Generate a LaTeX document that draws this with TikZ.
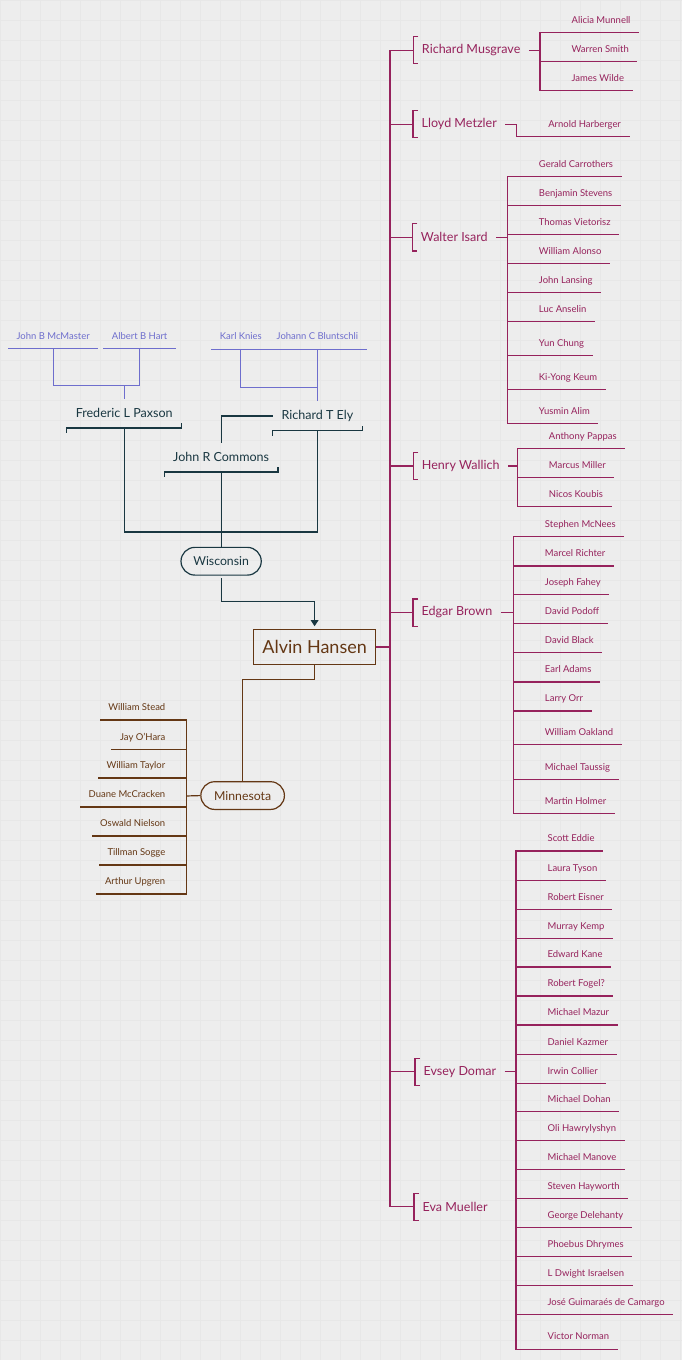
\documentclass[tikz,border=0pt]{standalone}
\usepackage{fontspec}
\setmainfont{Lato}
\usetikzlibrary{arrows.meta}
\definecolor{plum}{RGB}{150,34,92}
\definecolor{bark}{RGB}{100,55,20}
\definecolor{slate}{RGB}{25,55,65}
\definecolor{lilac}{RGB}{110,110,205}
\definecolor{paper}{RGB}{237,237,237}
\definecolor{gridgray}{RGB}{231,231,231}
\begin{document}
\begin{tikzpicture}[x=0.75pt,y=0.75pt,yscale=-1,xscale=1,line width=0.9pt,
  small/.style={font=\fontsize{7.1}{8.5}\selectfont},
  kid/.style={small,inner xsep=6pt,inner ysep=6.4pt,text depth=0pt},
  prof/.style={font=\fontsize{9.4}{11}\selectfont,text=plum,anchor=west,inner xsep=6pt,inner ysep=0pt,minimum height=19.5pt},
  elder/.style={font=\fontsize{9.4}{11}\selectfont,text=slate,inner xsep=6.3pt,inner ysep=0pt,minimum height=21pt},
  school/.style={draw,rounded corners=10.4pt,minimum height=20.8pt,inner sep=0pt,font=\fontsize{9.2}{11}\selectfont}]
%uncomment if require: \path (0,1360); %set diagram left start at 0, and has height of 1360
\fill[paper] (0,0) rectangle (682,1360);
\draw[gridgray,line width=0.3pt,step=15pt] (0,0) grid (682,1360);
\useasboundingbox (0,0) rectangle (682,1360);

% Alvin Hansen
\node[draw=bark,text=bark,line width=0.8pt,minimum width=91.2pt,minimum height=26.8pt,inner sep=0pt,font=\fontsize{13.5}{16}\selectfont] (alvin) at (314.5,647) {Alvin Hansen};

%%%%%%%% Wisconsin side
% Text Node
\node[kid,text=lilac,anchor=south] (mcmaster) at (53,348.5) {John B McMaster};
\node[kid,text=lilac,anchor=south] (hart) at (139.5,348.5) {Albert B Hart};
\node[kid,text=lilac,anchor=south] (knies) at (240.7,349) {Karl Knies};
\node[kid,text=lilac,anchor=south] (bluntschli) at (317.3,349) {Johann C Bluntschli};
\draw[lilac] (mcmaster.south west) -- (mcmaster.south east);
\draw[lilac] (hart.south west) -- (hart.south east);
\draw[lilac] (knies.south west) -- (knies.south east);
\draw[lilac] (bluntschli.south west) -- (bluntschli.south east);
% Text Node
\node[elder] (paxson) at (124,413.3) {Frederic L Paxson};
\node[elder] (ely) at (317.3,416) {Richard T Ely};
\node[elder] (commons) at (221,457.3) {John R Commons};
\draw[slate] ([yshift=3.75pt]paxson.south west) |- (paxson.south east) -- ++(0,-5);
\draw[slate] ([yshift=3.75pt]ely.south west) |- (ely.south east) -- ++(0,-5);
\draw[slate] ([yshift=3.75pt]commons.south west) |- (commons.south east) -- ++(0,-5);
%Straight Lines
\coordinate (paxjoin) at (124,385.7);
\coordinate (elyjoin) at (317.3,387.7);
\draw[lilac] (mcmaster.south) |- (paxjoin);
\draw[lilac] (hart.south) |- (paxjoin) -- (paxson.north);
\draw[lilac] (knies.south) |- (elyjoin);
\draw[lilac] (bluntschli.south) -- (ely.north);
\draw[slate] (ely.west) -| (commons.north);

\node[school,draw=slate,text=slate,minimum width=60.2pt] (wisconsin) at (221,561.2) {Wisconsin};
\coordinate (wjoin) at (221,532);
\draw[slate] (paxson.south) |- (wjoin);
\draw[slate] (ely.south) |- (wjoin);
\draw[slate] (commons.south) -- (wisconsin.north);
\coordinate (wbend) at (221,601.7);
\draw[slate,-{Triangle[width=5.8pt,length=4.6pt]},shorten <=2pt,shorten >=1.8pt] (wisconsin.south) -- (wbend) -| (alvin.north);

%%%%%%%% Minnesota side
\node[school,draw=bark,text=bark,minimum width=62.7pt] (minnesota) at (242.5,795.6) {Minnesota};
\coordinate (abend) at (314.5,679.3);
\draw[bark] (alvin.south) -- (abend) -| (minnesota.north);
\coordinate (minstem) at (186.7,796);
\draw[bark] (minnesota.west) -- (minstem);
% Text Node
\node[kid,text=bark,anchor=south east] (min1) at (173.7,720) {William Stead};
\node[kid,text=bark,anchor=south east] (min2) at (173.7,749.3) {Jay O’Hara};
\node[kid,text=bark,anchor=south east] (min3) at (173.7,778) {William Taylor};
\node[kid,text=bark,anchor=south east] (min4) at (173.7,807) {Duane McCracken};
\node[kid,text=bark,anchor=south east] (min5) at (173.7,836) {Oswald Nielson};
\node[kid,text=bark,anchor=south east] (min6) at (173.7,865) {Tillman Sogge};
\node[kid,text=bark,anchor=south east] (min7) at (173.7,894) {Arthur Upgren};
\draw[bark] (minstem) |- (min1.south west);
\draw[bark] (minstem) |- (min2.south west);
\draw[bark] (minstem) |- (min3.south west);
\draw[bark] (minstem) |- (min4.south west);
\draw[bark] (minstem) |- (min5.south west);
\draw[bark] (minstem) |- (min6.south west);
\draw[bark] (minstem) |- (min7.south west);

%%%%%%%% students
\coordinate (trunk) at (390,647);
\draw[plum] (alvin.east) -- (trunk);
\node[prof] (musgrave) at (413.3,50) {Richard Musgrave};
\node[prof] (metzler) at (413,124) {Lloyd Metzler};
\node[prof] (isard) at (412.3,237.3) {Walter Isard};
\node[prof] (wallich) at (413.3,466) {Henry Wallich};
\node[prof] (ebrown) at (413,612.5) {Edgar Brown};
\node[prof] (domar) at (415,1072) {Evsey Domar};
\node[prof] (mueller) at (414,1207) {Eva Mueller};
\draw[plum] (trunk) |- (musgrave.west);
\draw[plum] (trunk) |- (metzler.west);
\draw[plum] (trunk) |- (isard.west);
\draw[plum] (trunk) |- (wallich.west);
\draw[plum] (trunk) |- (ebrown.west);
\draw[plum] (trunk) |- (domar.west);
\draw[plum] (trunk) |- (mueller.west);
\draw[plum] ([xshift=3.75pt]musgrave.north west) -| (musgrave.south west) -- ++(5,0);
\draw[plum] ([xshift=3.75pt]metzler.north west) -| (metzler.south west) -- ++(5,0);
\draw[plum] ([xshift=3.75pt]isard.north west) -| (isard.south west) -- ++(5,0);
\draw[plum] ([xshift=3.75pt]wallich.north west) -| (wallich.south west) -- ++(5,0);
\draw[plum] ([xshift=3.75pt]ebrown.north west) -| (ebrown.south west) -- ++(5,0);
\draw[plum] ([xshift=3.75pt]domar.north west) -| (domar.south west) -- ++(5,0);
\draw[plum] ([xshift=3.75pt]mueller.north west) -| (mueller.south west) -- ++(5,0);

% Musgrave
\coordinate (musstem) at (540,50);
\draw[plum] (musgrave.east) -- (musstem);
\node[kid,text=plum,anchor=south west] (mus1) at (563,32.7) {Alicia Munnell};
\node[kid,text=plum,anchor=south west] (mus2) at (563,61.7) {Warren Smith};
\node[kid,text=plum,anchor=south west] (mus3) at (563,90.7) {James Wilde};
\draw[plum] (musstem) |- (mus1.south east);
\draw[plum] (musstem) |- (mus2.south east);
\draw[plum] (musstem) |- (mus3.south east);

% Metzler
\coordinate (metstem) at (516.7,124);
\draw[plum] (metzler.east) -- (metstem);
\node[kid,text=plum,anchor=south west] (met1) at (539.7,136) {Arnold Harberger};
\draw[plum] (metstem) |- (met1.south east);

% Isard
\coordinate (isastem) at (507.3,237.3);
\draw[plum] (isard.east) -- (isastem);
\node[kid,text=plum,anchor=south west] (isa1) at (530.3,176) {Gerald Carrothers};
\node[kid,text=plum,anchor=south west] (isa2) at (530.3,205) {Benjamin Stevens};
\node[kid,text=plum,anchor=south west] (isa3) at (530.3,234.3) {Thomas Vietorisz};
\node[kid,text=plum,anchor=south west] (isa4) at (530.3,263.3) {William Alonso};
\node[kid,text=plum,anchor=south west] (isa5) at (530.3,292.3) {John Lansing};
\node[kid,text=plum,anchor=south west] (isa6) at (530.3,321.3) {Luc Anselin};
\node[kid,text=plum,anchor=south west] (isa7) at (530.3,355.3) {Yun Chung};
\node[kid,text=plum,anchor=south west] (isa8) at (530.3,389.3) {Ki-Yong Keum};
\node[kid,text=plum,anchor=south west] (isa9) at (530.3,423.3) {Yusmin Alim};
\draw[plum] (isastem) |- (isa1.south east);
\draw[plum] (isastem) |- (isa2.south east);
\draw[plum] (isastem) |- (isa3.south east);
\draw[plum] (isastem) |- (isa4.south east);
\draw[plum] (isastem) |- (isa5.south east);
\draw[plum] (isastem) |- (isa6.south east);
\draw[plum] (isastem) |- (isa7.south east);
\draw[plum] (isastem) |- (isa8.south east);
\draw[plum] (isastem) |- (isa9.south east);

% Wallich
\coordinate (walstem) at (517.3,466);
\draw[plum] (wallich.east) -- (walstem);
\node[kid,text=plum,anchor=south west] (wal1) at (540.3,448.3) {Anthony Pappas};
\node[kid,text=plum,anchor=south west] (wal2) at (540.3,477.3) {Marcus Miller};
\node[kid,text=plum,anchor=south west] (wal3) at (540.3,506.7) {Nicos Koubis};
\draw[plum] (walstem) |- (wal1.south east);
\draw[plum] (walstem) |- (wal2.south east);
\draw[plum] (walstem) |- (wal3.south east);

% Brown
\coordinate (brostem) at (513.3,612.5);
\draw[plum] (ebrown.east) -- (brostem);
\node[kid,text=plum,anchor=south west] (bro1) at (536.3,536.7) {Stephen McNees};
\node[kid,text=plum,anchor=south west] (bro2) at (536.3,566) {Marcel Richter};
\node[kid,text=plum,anchor=south west] (bro3) at (536.3,594.7) {Joseph Fahey};
\node[kid,text=plum,anchor=south west] (bro4) at (536.3,623.7) {David Podoff};
\node[kid,text=plum,anchor=south west] (bro5) at (536.3,652.7) {David Black};
\node[kid,text=plum,anchor=south west] (bro6) at (536.3,682) {Earl Adams};
\node[kid,text=plum,anchor=south west] (bro7) at (536.3,711) {Larry Orr};
\node[kid,text=plum,anchor=south west] (bro8) at (536.3,744.7) {William Oakland};
\node[kid,text=plum,anchor=south west] (bro9) at (536.3,779.3) {Michael Taussig};
\node[kid,text=plum,anchor=south west] (bro10) at (536.3,813.3) {Martin Holmer};
\draw[plum] (brostem) |- (bro1.south east);
\draw[plum] (brostem) |- (bro2.south east);
\draw[plum] (brostem) |- (bro3.south east);
\draw[plum] (brostem) |- (bro4.south east);
\draw[plum] (brostem) |- (bro5.south east);
\draw[plum] (brostem) |- (bro6.south east);
\draw[plum] (brostem) |- (bro7.south east);
\draw[plum] (brostem) |- (bro8.south east);
\draw[plum] (brostem) |- (bro9.south east);
\draw[plum] (brostem) |- (bro10.south east);

% Domar
\coordinate (domstem) at (516,1072);
\draw[plum] (domar.east) -- (domstem);
\node[kid,text=plum,anchor=south west] (dom1) at (539,851) {Scott Eddie};
\node[kid,text=plum,anchor=south west] (dom2) at (539,880.3) {Laura Tyson};
\node[kid,text=plum,anchor=south west] (dom3) at (539,909.3) {Robert Eisner};
\node[kid,text=plum,anchor=south west] (dom4) at (539,938.3) {Murray Kemp};
\node[kid,text=plum,anchor=south west] (dom5) at (539,967) {Edward Kane};
\node[kid,text=plum,anchor=south west] (dom6) at (539,996) {Robert Fogel?};
\node[kid,text=plum,anchor=south west] (dom7) at (539,1025) {Michael Mazur};
\node[kid,text=plum,anchor=south west] (dom8) at (539,1054.3) {Daniel Kazmer};
\node[kid,text=plum,anchor=south west] (dom9) at (539,1083.3) {Irwin Collier};
\node[kid,text=plum,anchor=south west] (dom10) at (539,1112) {Michael Dohan};
\node[kid,text=plum,anchor=south west] (dom11) at (539,1141) {Oli Hawrylyshyn};
\node[kid,text=plum,anchor=south west] (dom12) at (539,1170) {Michael Manove};
\node[kid,text=plum,anchor=south west] (dom13) at (539,1199) {Steven Hayworth};
\node[kid,text=plum,anchor=south west] (dom14) at (539,1228) {George Delehanty};
\node[kid,text=plum,anchor=south west] (dom15) at (539,1257) {Phoebus Dhrymes};
\node[kid,text=plum,anchor=south west] (dom16) at (539,1286) {L Dwight Israelsen};
\node[kid,text=plum,anchor=south west] (dom17) at (539,1315) {José Guimaraés de Camargo};
\node[kid,text=plum,anchor=south west] (dom18) at (539,1349.3) {Victor Norman};
\draw[plum] (domstem) |- (dom1.south east);
\draw[plum] (domstem) |- (dom2.south east);
\draw[plum] (domstem) |- (dom3.south east);
\draw[plum] (domstem) |- (dom4.south east);
\draw[plum] (domstem) |- (dom5.south east);
\draw[plum] (domstem) |- (dom6.south east);
\draw[plum] (domstem) |- (dom7.south east);
\draw[plum] (domstem) |- (dom8.south east);
\draw[plum] (domstem) |- (dom9.south east);
\draw[plum] (domstem) |- (dom10.south east);
\draw[plum] (domstem) |- (dom11.south east);
\draw[plum] (domstem) |- (dom12.south east);
\draw[plum] (domstem) |- (dom13.south east);
\draw[plum] (domstem) |- (dom14.south east);
\draw[plum] (domstem) |- (dom15.south east);
\draw[plum] (domstem) |- (dom16.south east);
\draw[plum] (domstem) |- (dom17.south east);
\draw[plum] (domstem) |- (dom18.south east);
\end{tikzpicture}
\end{document}
